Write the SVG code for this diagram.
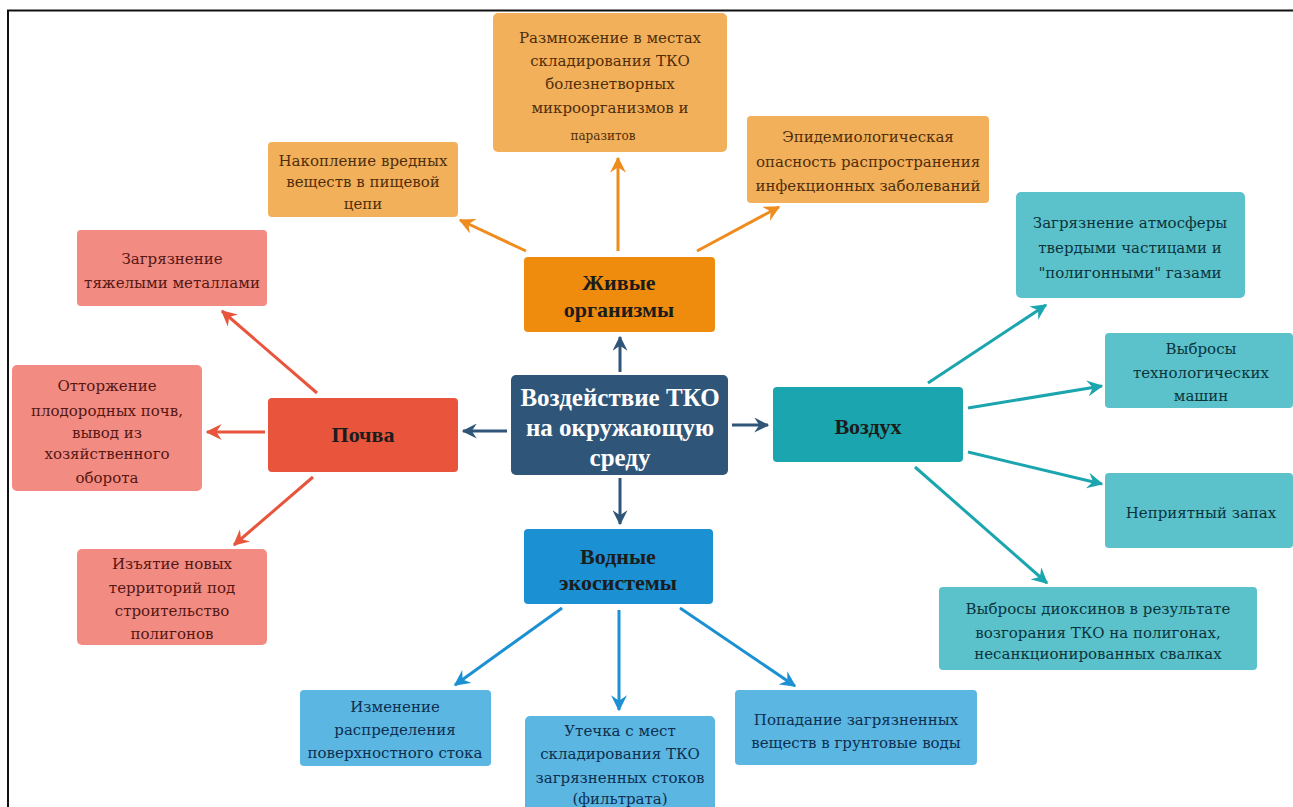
<svg xmlns="http://www.w3.org/2000/svg" width="1293" height="807" viewBox="0 0 1293 807">
<defs>
<style>
text{text-anchor:middle}
.leaf{font-family:"DejaVu Serif",serif;font-size:15px}
.main{font-family:"Liberation Serif",serif;font-size:22px;font-weight:bold;fill:#1c1c1c}
.ctr{font-family:"Liberation Serif",serif;font-size:25px;font-weight:bold;fill:#ffffff}
.to{fill:#4f2e0c}.tr{fill:#551712}.tt{fill:#0b343b}.tb{fill:#0d2f50}
.c{stroke:#2f5578;stroke-width:3;fill:none}
.o{stroke:#ef8c1e;stroke-width:3;fill:none}
.r{stroke:#e8543c;stroke-width:3;fill:none}
.t{stroke:#1ba5ae;stroke-width:3;fill:none}
.b{stroke:#1b90d2;stroke-width:3;fill:none}
</style>
<marker id="mc" viewBox="0 0 12 12" refX="11" refY="6" markerWidth="15" markerHeight="15" markerUnits="userSpaceOnUse" orient="auto"><path d="M0,0 L12,6 L0,12 L4,6 z" fill="#2f5578"/></marker>
<marker id="mo" viewBox="0 0 12 12" refX="11" refY="6" markerWidth="16" markerHeight="16" markerUnits="userSpaceOnUse" orient="auto"><path d="M0,0 L12,6 L0,12 L4,6 z" fill="#ef8c1e"/></marker>
<marker id="mr" viewBox="0 0 12 12" refX="11" refY="6" markerWidth="16" markerHeight="16" markerUnits="userSpaceOnUse" orient="auto"><path d="M0,0 L12,6 L0,12 L4,6 z" fill="#e8543c"/></marker>
<marker id="mt" viewBox="0 0 12 12" refX="11" refY="6" markerWidth="16" markerHeight="16" markerUnits="userSpaceOnUse" orient="auto"><path d="M0,0 L12,6 L0,12 L4,6 z" fill="#1ba5ae"/></marker>
<marker id="mb" viewBox="0 0 12 12" refX="11" refY="6" markerWidth="16" markerHeight="16" markerUnits="userSpaceOnUse" orient="auto"><path d="M0,0 L12,6 L0,12 L4,6 z" fill="#1b90d2"/></marker>
</defs>
<rect x="0" y="0" width="1293" height="807" fill="#ffffff"/>
<line x1="7" y1="10.5" x2="1293" y2="10.5" stroke="#111" stroke-width="2"/>
<line x1="8" y1="10" x2="8" y2="807" stroke="#111" stroke-width="2"/>

<g id="connectors">
<line class="c" x1="620" y1="372" x2="620" y2="337" marker-end="url(#mc)"/>
<line class="c" x1="507" y1="431" x2="463" y2="431" marker-end="url(#mc)"/>
<line class="c" x1="732" y1="425" x2="768" y2="425" marker-end="url(#mc)"/>
<line class="c" x1="620" y1="478" x2="620" y2="524" marker-end="url(#mc)"/>

<line class="o" x1="526" y1="251" x2="460" y2="220" marker-end="url(#mo)"/>
<line class="o" x1="618" y1="251" x2="618" y2="158" marker-end="url(#mo)"/>
<line class="o" x1="697" y1="251" x2="779" y2="207" marker-end="url(#mo)"/>

<line class="r" x1="317" y1="393" x2="222" y2="311" marker-end="url(#mr)"/>
<line class="r" x1="265" y1="432" x2="207" y2="432" marker-end="url(#mr)"/>
<line class="r" x1="313" y1="477" x2="234" y2="545" marker-end="url(#mr)"/>

<line class="t" x1="928" y1="383" x2="1046" y2="305" marker-end="url(#mt)"/>
<line class="t" x1="968" y1="408" x2="1102" y2="386" marker-end="url(#mt)"/>
<line class="t" x1="968" y1="452" x2="1102" y2="484" marker-end="url(#mt)"/>
<line class="t" x1="915" y1="467" x2="1047" y2="583" marker-end="url(#mt)"/>

<line class="b" x1="562" y1="608" x2="455" y2="685" marker-end="url(#mb)"/>
<line class="b" x1="619" y1="610" x2="619" y2="710" marker-end="url(#mb)"/>
<line class="b" x1="680" y1="608" x2="795" y2="686" marker-end="url(#mb)"/>
</g>

<g id="center">
<rect x="511" y="375" width="217" height="100" rx="5" fill="#2f5578"/>
<text class="ctr" x="620" y="406">Воздействие ТКО</text>
<text class="ctr" x="620" y="436">на окружающую</text>
<text class="ctr" x="620" y="466">среду</text>
</g>

<g id="zhivye">
<rect x="524" y="257" width="191" height="75" rx="4" fill="#ef8c0e"/>
<text class="main" x="619" y="290">Живые</text>
<text class="main" x="619" y="317">организмы</text>
</g>
<g id="pochva">
<rect x="268" y="398" width="190" height="74" rx="4" fill="#e8543c"/>
<text class="main" x="363" y="442">Почва</text>
</g>
<g id="vozduh">
<rect x="773" y="387" width="190" height="75" rx="4" fill="#1ba5ae"/>
<text class="main" x="868" y="434">Воздух</text>
</g>
<g id="vodnye">
<rect x="524" y="529" width="189" height="75" rx="4" fill="#1b90d2"/>
<text class="main" x="618" y="564">Водные</text>
<text class="main" x="618" y="590">экосистемы</text>
</g>

<g id="nakoplenie">
<rect x="268" y="142" width="190" height="75" rx="4" fill="#f3b05a"/>
<text class="leaf to" x="363" y="166">Накопление вредных</text>
<text class="leaf to" x="363" y="187">веществ в пищевой</text>
<text class="leaf to" x="363" y="209">цепи</text>
</g>
<g id="razmnozhenie">
<rect x="493" y="13" width="234" height="139" rx="5" fill="#f3b05a"/>
<text class="leaf to" x="610" y="43">Размножение в местах</text>
<text class="leaf to" x="610" y="66">складирования ТКО</text>
<text class="leaf to" x="610" y="89">болезнетворных</text>
<text class="leaf to" x="610" y="113">микроорганизмов и</text>
<text class="to" x="603" y="140" style="font-family:'DejaVu Serif',serif;font-size:12px">паразитов</text>
</g>
<g id="epidem">
<rect x="747" y="116" width="242" height="87" rx="4" fill="#f3b05a"/>
<text class="leaf to" x="868" y="142">Эпидемиологическая</text>
<text class="leaf to" x="868" y="167">опасность распространения</text>
<text class="leaf to" x="868" y="191">инфекционных заболеваний</text>
</g>

<g id="zagr-metal">
<rect x="77" y="230" width="190" height="76" rx="4" fill="#f28b82"/>
<text class="leaf tr" x="172" y="264">Загрязнение</text>
<text class="leaf tr" x="172" y="288">тяжелыми металлами</text>
</g>
<g id="ottorzhenie">
<rect x="12" y="365" width="190" height="126" rx="5" fill="#f28b82"/>
<text class="leaf tr" x="107" y="391">Отторжение</text>
<text class="leaf tr" x="107" y="416">плодородных почв,</text>
<text class="leaf tr" x="107" y="438">вывод из</text>
<text class="leaf tr" x="107" y="459">хозяйственного</text>
<text class="leaf tr" x="107" y="483">оборота</text>
</g>
<g id="izyatie">
<rect x="77" y="549" width="190" height="96" rx="5" fill="#f28b82"/>
<text class="leaf tr" x="172" y="569">Изъятие новых</text>
<text class="leaf tr" x="172" y="593">территорий под</text>
<text class="leaf tr" x="172" y="616">строительство</text>
<text class="leaf tr" x="172" y="639">полигонов</text>
</g>

<g id="zagr-atm">
<rect x="1016" y="192" width="229" height="106" rx="5" fill="#5bc2cc"/>
<text class="leaf tt" x="1130" y="228">Загрязнение атмосферы</text>
<text class="leaf tt" x="1130" y="253">твердыми частицами и</text>
<text class="leaf tt" x="1130" y="278">"полигонными" газами</text>
</g>
<g id="vybrosy-mash">
<rect x="1105" y="333" width="188" height="75" rx="4" fill="#5bc2cc"/>
<text class="leaf tt" x="1201" y="354">Выбросы</text>
<text class="leaf tt" x="1201" y="378">технологических</text>
<text class="leaf tt" x="1201" y="401">машин</text>
</g>
<g id="zapah">
<rect x="1105" y="473" width="188" height="75" rx="4" fill="#5bc2cc"/>
<text class="leaf tt" x="1201" y="518">Неприятный запах</text>
</g>
<g id="dioksiny">
<rect x="939" y="587" width="318" height="83" rx="4" fill="#5bc2cc"/>
<text class="leaf tt" x="1098" y="614">Выбросы диоксинов в результате</text>
<text class="leaf tt" x="1098" y="638">возгорания ТКО на полигонах,</text>
<text class="leaf tt" x="1098" y="659">несанкционированных свалках</text>
</g>

<g id="izmenenie">
<rect x="300" y="690" width="191" height="76" rx="4" fill="#5bb6e2"/>
<text class="leaf tb" x="395" y="712">Изменение</text>
<text class="leaf tb" x="395" y="735">распределения</text>
<text class="leaf tb" x="395" y="758">поверхностного стока</text>
</g>
<g id="utechka">
<rect x="525" y="716" width="190" height="100" rx="5" fill="#5bb6e2"/>
<text class="leaf tb" x="620" y="736">Утечка с мест</text>
<text class="leaf tb" x="620" y="759">складирования ТКО</text>
<text class="leaf tb" x="620" y="783">загрязненных стоков</text>
<text class="leaf tb" x="620" y="804">(фильтрата)</text>
</g>
<g id="popadanie">
<rect x="735" y="690" width="242" height="75" rx="4" fill="#5bb6e2"/>
<text class="leaf tb" x="856" y="725">Попадание загрязненных</text>
<text class="leaf tb" x="856" y="748">веществ в грунтовые воды</text>
</g>
</svg>
